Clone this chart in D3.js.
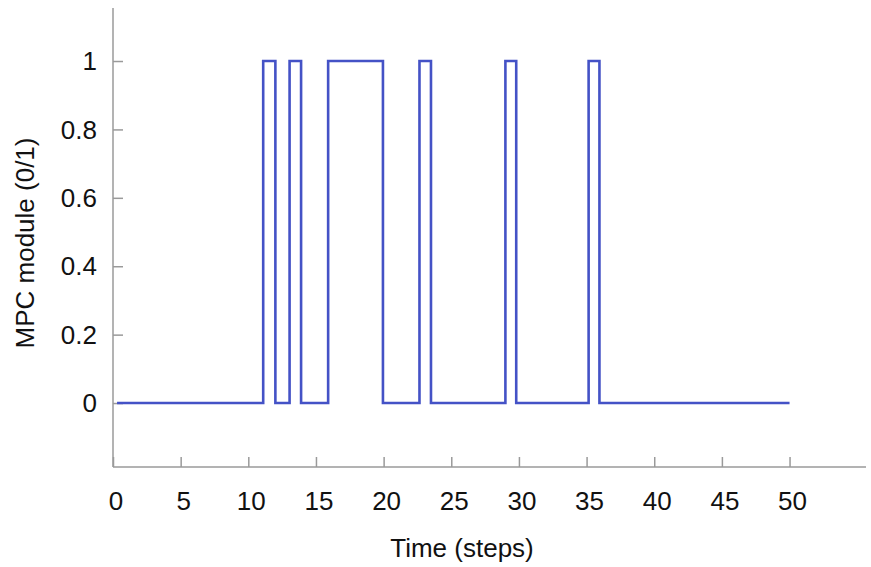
<!DOCTYPE html>
<html>
<head>
<meta charset="utf-8">
<script src="https://cdn.jsdelivr.net/npm/d3@7"></script>
<style>
  body { margin: 0; background: #fff; }
  svg text { font-family: "Liberation Sans", Arial, sans-serif; fill: #111; }
</style>
</head>
<body>
<div id="chart"></div>
<script>
// switch times (steps) and the state held from each one
var times = [0.3, 11.1, 12.0, 13.05, 13.9, 15.9, 19.95, 22.65, 23.5, 29.0, 29.8, 35.15, 35.95, 50];
var states = [0, 1, 0, 1, 0, 1, 0, 1, 0, 1, 0, 1, 0, 0];
var xTicks = [0, 5, 10, 15, 20, 25, 30, 35, 40, 45, 50];
var yTicks = [0, 0.2, 0.4, 0.6, 0.8, 1];

var width = 871, height = 567;
var axisColor = '#9a9a9a', lineColor = '#4452c6';

var svg = d3.select('#chart').append('svg')
    .attr('width', width)
    .attr('height', height);

var x = d3.scaleLinear().domain([0, 55.65]).range([113, 866]);
var y = d3.scaleLinear().domain([-0.187, 1.155]).range([467, 8]);

// y axis, ticks pointing inward
var yAxis = svg.append('g').attr('transform', 'translate(' + x(0) + ',0)')
    .call(d3.axisRight(y).tickValues(yTicks).tickSize(10).tickFormat(''));
yAxis.select('.domain').remove();
yAxis.selectAll('line').attr('stroke', axisColor).attr('stroke-width', 1.5);
svg.append('line')
    .attr('x1', x(0)).attr('x2', x(0))
    .attr('y1', y.range()[1]).attr('y2', y.range()[0])
    .attr('stroke', axisColor).attr('stroke-width', 1.5);

svg.selectAll('.ylab')
  .data(yTicks)
  .enter().append('text')
    .attr('class', 'ylab')
    .attr('x', 97)
    .attr('y', function(d){ return y(d); })
    .attr('dy', '0.35em')
    .attr('text-anchor', 'end')
    .style('font-size', '26px')
    .text(function(d){ return d3.format('~g')(d); });

// x axis, ticks pointing up
var xAxis = svg.append('g').attr('transform', 'translate(0,' + y(-0.187) + ')')
    .call(d3.axisTop(x).tickValues(xTicks).tickSize(10).tickFormat(''));
xAxis.select('.domain').remove();
xAxis.selectAll('line').attr('stroke', axisColor).attr('stroke-width', 1.5);
svg.append('line')
    .attr('x1', x.range()[0]).attr('x2', x.range()[1])
    .attr('y1', y(-0.187)).attr('y2', y(-0.187))
    .attr('stroke', axisColor).attr('stroke-width', 1.5);

svg.selectAll('.xlab')
  .data(xTicks)
  .enter().append('text')
    .attr('class', 'xlab')
    .attr('x', function(d){ return x(d) + 3; })
    .attr('y', 510)
    .attr('text-anchor', 'middle')
    .style('font-size', '26px')
    .text(function(d){ return d; });

// axis titles
svg.append('text')
    .attr('x', 462).attr('y', 557)
    .attr('text-anchor', 'middle')
    .style('font-size', '26px')
    .text('Time (steps)');

svg.append('text')
    .attr('transform', 'translate(34,243) rotate(-90)')
    .attr('text-anchor', 'middle')
    .style('font-size', '26px')
    .text('MPC module (0/1)');

// step signal
var pts = times.map(function(t, i){ return [t, states[i]]; });
var line = d3.line()
    .x(function(d){ return x(d[0]); })
    .y(function(d){ return y(d[1]); })
    .curve(d3.curveStepAfter);

svg.append('path')
    .datum(pts)
    .attr('d', line)
    .attr('fill', 'none')
    .attr('stroke', lineColor)
    .attr('stroke-width', 2.6);
</script>
</body>
</html>
